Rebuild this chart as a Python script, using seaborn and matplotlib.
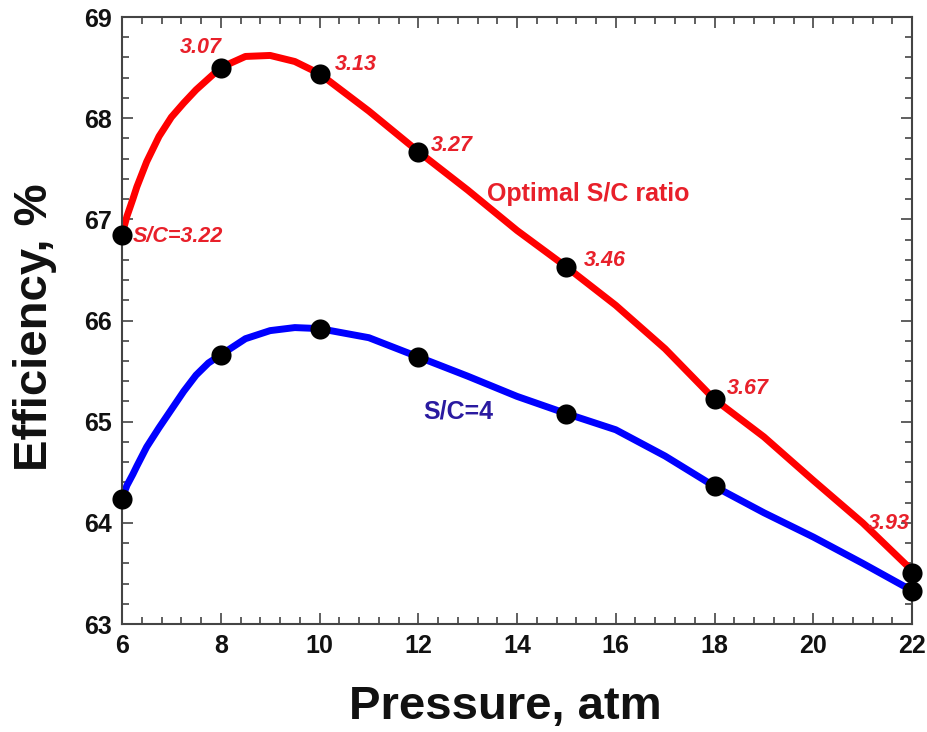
import matplotlib
matplotlib.use("Agg")
import matplotlib.pyplot as plt
from matplotlib.ticker import MultipleLocator
import seaborn as sns
import pandas as pd

# Data points (markers)
pressure_pts = [6, 8, 10, 12, 15, 18, 22]
eff_optimal_pts = [66.85, 68.50, 68.44, 67.67, 66.53, 65.22, 63.50]
eff_sc4_pts = [64.24, 65.66, 65.92, 65.64, 65.08, 64.36, 63.33]
sc_labels = ["S/C=3.22", "3.07", "3.13", "3.27", "3.46", "3.67", "3.93"]

# Curves
curve_x = [6, 6.1, 6.22, 6.3, 6.5, 6.75, 7, 7.25, 7.5, 7.75, 8, 8.5, 9, 9.5, 10,
           11, 12, 13, 14, 15, 16, 17, 18, 19, 20, 21, 22]
curve_optimal = [66.85, 67.03, 67.20, 67.32, 67.57, 67.82, 68.01, 68.15, 68.28, 68.39, 68.50,
                 68.61, 68.62, 68.56, 68.44, 68.07, 67.67, 67.29, 66.89, 66.53, 66.15, 65.72,
                 65.22, 64.85, 64.42, 64.00, 63.53]
curve_sc4 = [64.24, 64.37, 64.48, 64.56, 64.75, 64.94, 65.12, 65.30, 65.46, 65.58, 65.66,
             65.82, 65.90, 65.93, 65.92, 65.83, 65.64, 65.45, 65.25, 65.08, 64.92, 64.66,
             64.36, 64.10, 63.86, 63.60, 63.33]

sns.set_style("ticks")
plt.rcParams['font.family'] = ['Liberation Sans', 'DejaVu Sans']
plt.rcParams['text.color'] = '#111111'
plt.rcParams['axes.labelcolor'] = '#111111'
plt.rcParams['xtick.color'] = '#444444'
plt.rcParams['ytick.color'] = '#444444'
plt.rcParams['xtick.labelcolor'] = '#111111'
plt.rcParams['ytick.labelcolor'] = '#111111'

fig = plt.figure(figsize=(9.28, 7.32), dpi=100)
ax = fig.add_axes([122/928, 1-624/732, 790/928, 607/732])

curves = pd.DataFrame({"x": curve_x, "opt": curve_optimal, "sc4": curve_sc4})
pts = pd.DataFrame({"x": pressure_pts, "opt": eff_optimal_pts, "sc4": eff_sc4_pts})

sns.lineplot(data=curves, x="x", y="opt", ax=ax, color="#ff0000", lw=5, zorder=2,
             solid_capstyle="round", solid_joinstyle="round")
sns.lineplot(data=curves, x="x", y="sc4", ax=ax, color="#0000ff", lw=5, zorder=2,
             solid_capstyle="round", solid_joinstyle="round")
sns.scatterplot(data=pts, x="x", y="opt", ax=ax, color="black", s=210, zorder=3,
                edgecolor="black", linewidth=0, clip_on=False)
sns.scatterplot(data=pts, x="x", y="sc4", ax=ax, color="black", s=210, zorder=3,
                edgecolor="black", linewidth=0, clip_on=False)

ax.set_xlim(6, 22)
ax.set_ylim(63, 69)
ax.xaxis.set_major_locator(MultipleLocator(2))
ax.xaxis.set_minor_locator(MultipleLocator(0.4))
ax.yaxis.set_major_locator(MultipleLocator(1))
ax.yaxis.set_minor_locator(MultipleLocator(0.2))

for s in ax.spines.values():
    s.set_visible(True)
    s.set_color("#444444")
    s.set_linewidth(1.5)

ax.tick_params(which="both", direction="in", top=True, right=True, width=1.2)
ax.tick_params(which="major", length=8)
ax.tick_params(which="minor", length=5)
ax.tick_params(axis="both", which="major", labelsize=18, pad=7)
for lab in ax.get_xticklabels() + ax.get_yticklabels():
    lab.set_fontweight("bold")

ax.set_xlabel("Pressure, atm", fontsize=34, fontweight="bold")
ax.set_ylabel("Efficiency, %", fontsize=34, fontweight="bold")
ax.xaxis.set_label_coords(0.485, -0.1)
ax.yaxis.set_label_coords(-0.082, 0.489)

# S/C annotations (offsets in pixels from each marker)
offsets = [(11, -2), (-41, 20), (15, 9), (13, 6), (17, 6), (12, 11), (-44, 50)]
for (x, y, t, off) in zip(pressure_pts, eff_optimal_pts, sc_labels, offsets):
    ax.annotate(t, (x, y), xytext=off, textcoords="offset pixels", color="#e8202a",
                fontsize=15.5, fontstyle="italic", fontweight="bold", va="center", ha="left",
                annotation_clip=False)

ax.text(13.39, 67.25, "Optimal S/C ratio", color="#e8202a", fontsize=18, fontweight="bold",
        va="center", ha="left")
ax.text(12.1, 65.10, "S/C=4", color="#2a1aa0", fontsize=18, fontweight="bold",
        va="center", ha="left")

fig.savefig("out.png", dpi=100)
